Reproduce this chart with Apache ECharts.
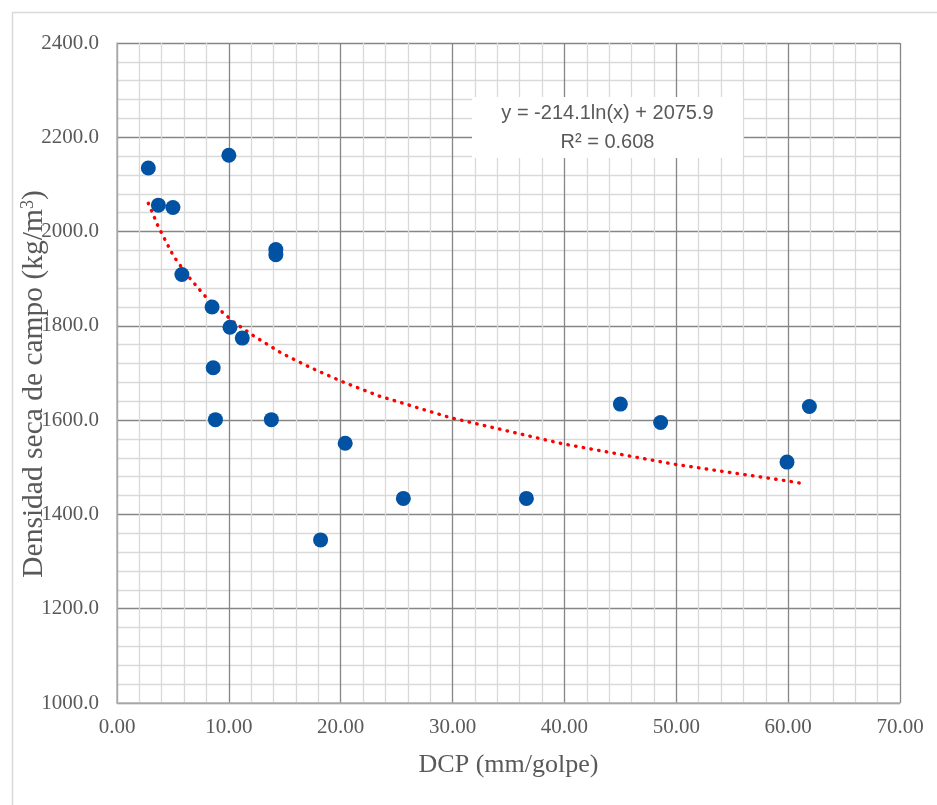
<!DOCTYPE html>
<html>
<head>
<meta charset="utf-8">
<style>
  html, body { margin: 0; padding: 0; background: #fff; }
  #chart { width: 937px; height: 805px; }
</style>
<script src="https://cdn.jsdelivr.net/npm/echarts@6/dist/echarts.min.js"></script>
</head>
<body>
<div id="chart"></div>
<script>
// measured points: DCP (mm/golpe) vs field dry density (kg/m3)
const dcp = [2.8, 3.7, 5.0, 10.0, 14.2, 14.2, 5.8, 8.5, 10.1, 11.2, 8.6, 8.8, 13.8, 20.4, 18.2, 25.6, 36.6, 45.0, 48.6, 59.9, 61.9];
const densidad = [2135, 2056, 2051, 2162, 1962, 1951, 1909, 1840, 1797, 1774, 1711, 1601, 1601, 1551, 1346, 1434, 1434, 1634, 1595, 1511, 1629];

// logarithmic trendline as drawn
const trendX = [2.8, 3.7, 5.05, 6.34, 7.8, 8.84, 10.5, 12.26, 14.79, 17.44, 20.1, 23.45, 29.85, 39.8, 49.94, 59.94, 61.45];
const trendY = [2060, 2010, 1948, 1906, 1865, 1841, 1807, 1778, 1741, 1710, 1682, 1651, 1605, 1550, 1506, 1471, 1465];

const eqLines = ['y = -214.1ln(x) + 2075.9', 'R² = 0.608'];

const chart = echarts.init(document.getElementById('chart'));

const serif = '"Liberation Serif", "Times New Roman", serif';
const txtColor = '#595959';
const eqFont = '20px "Liberation Sans", Arial, sans-serif';

const option = {
  backgroundColor: '#fff',
  animation: false,
  grid: { left: 117, right: 37, top: 43, bottom: 102, containLabel: false, outerBoundsMode: 'none' },
  xAxis: {
    type: 'value',
    min: 0, max: 70, interval: 10,
    name: 'DCP (mm/golpe)',
    nameLocation: 'middle',
    nameGap: 49,
    nameMoveOverlap: false,
    nameTextStyle: { fontFamily: serif, fontSize: 26, color: txtColor },
    axisLine: { show: true, lineStyle: { color: '#b3b3b3', width: 1.5 } },
    axisTick: { show: false },
    axisLabel: {
      margin: 14, fontFamily: serif, fontSize: 21, color: txtColor,
      formatter: v => v.toFixed(2)
    },
    splitLine: { show: true, lineStyle: { color: '#868686', width: 1.3 } },
    minorTick: { show: false, splitNumber: 5 },
    minorSplitLine: { show: true, lineStyle: { color: '#d9d9d9', width: 1.3 } }
  },
  yAxis: {
    type: 'value',
    min: 1000, max: 2400, interval: 200,
    name: '{a|Densidad seca de campo (kg/m}{s|3}{a|)}',
    nameLocation: 'middle',
    nameGap: 68,
    nameRotate: 90,
    nameMoveOverlap: false,
    nameTextStyle: {
      padding: [0, 22, 0, 0],
      rich: {
        a: { fontFamily: serif, fontSize: 29.5, color: txtColor },
        s: { fontFamily: serif, fontSize: 18, color: txtColor, verticalAlign: 'top', padding: [0, 0, 12, 0] }
      }
    },
    axisLine: { show: true, lineStyle: { color: '#b3b3b3', width: 1.5 } },
    axisTick: { show: false },
    axisLabel: {
      margin: 18, fontFamily: serif, fontSize: 21, color: txtColor,
      formatter: v => v.toFixed(1)
    },
    splitLine: { show: true, lineStyle: { color: '#868686', width: 1.3 } },
    minorTick: { show: false, splitNumber: 5 },
    minorSplitLine: { show: true, lineStyle: { color: '#d9d9d9', width: 1.3 } }
  },
  series: [
    {
      type: 'line',
      data: trendX.map((x, i) => [x, trendY[i]]),
      showSymbol: false,
      smooth: false,
      silent: true,
      z: 3,
      lineStyle: { color: '#ff0000', width: 3.4, type: [0.5, 7.3], cap: 'round' }
    },
    {
      type: 'scatter',
      data: dcp.map((x, i) => [x, densidad[i]]),
      symbol: 'circle',
      symbolSize: 15,
      z: 4,
      itemStyle: { color: '#0152a2', opacity: 1 }
    }
  ],
  graphic: {
    elements: [
      {
        type: 'rect', left: 10, top: 10, z: -10,
        shape: { width: 940, height: 800 },
        style: { fill: 'none', stroke: '#d9d9d9', lineWidth: 1.5 }
      },
      {
        type: 'rect', left: 472, top: 97, z: 100,
        shape: { width: 271, height: 61 },
        style: { fill: '#ffffff' }
      },
      {
        type: 'text', x: 607.5, y: 113, z: 101,
        style: { text: eqLines[0], fill: txtColor, align: 'center', verticalAlign: 'middle', font: eqFont }
      },
      {
        type: 'text', x: 607.5, y: 142, z: 101,
        style: { text: eqLines[1], fill: txtColor, align: 'center', verticalAlign: 'middle', font: eqFont }
      }
    ]
  }
};

chart.setOption(option);
window.addEventListener('resize', () => chart.resize());
</script>
</body>
</html>
